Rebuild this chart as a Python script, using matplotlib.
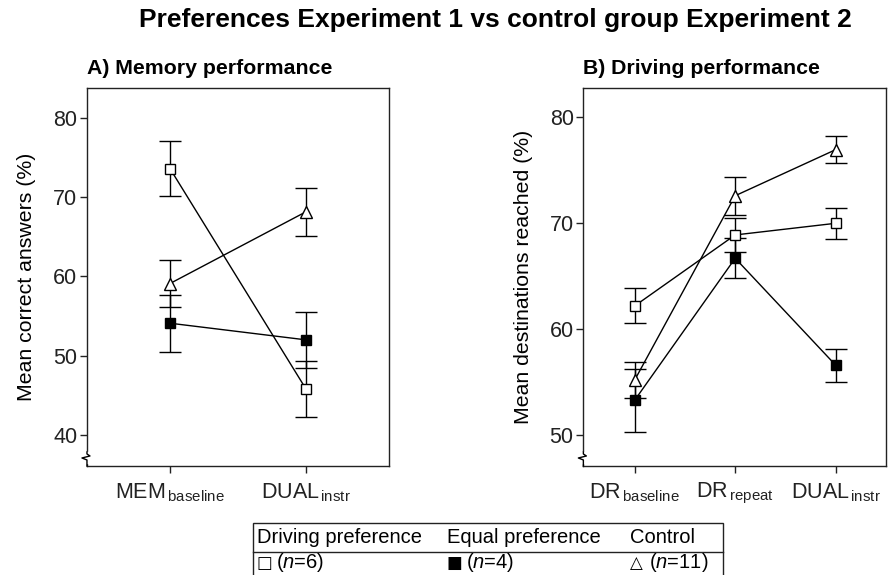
import matplotlib
matplotlib.use('Agg')
import matplotlib.pyplot as plt
from matplotlib.patches import Rectangle
from matplotlib.lines import Line2D

plt.rcParams['font.family'] = ['Liberation Sans', 'DejaVu Sans']
plt.rcParams['mathtext.fontset'] = 'custom'
plt.rcParams['mathtext.rm'] = 'Liberation Sans'
plt.rcParams['mathtext.it'] = 'Liberation Sans:italic'
plt.rcParams['mathtext.default'] = 'regular'

# A) Memory performance
cats_A = ['MEM$_{\\,baseline}$', 'DUAL$_{\\,instr}$']
drive_A = [73.6, 45.8]
drive_A_err = [3.5, 3.5]
equal_A = [54.1, 52.0]
equal_A_err = [3.6, 3.55]
control_A = [59.1, 68.15]
control_A_err = [3.0, 3.05]

# B) Driving performance
cats_B = ['DR$_{\\,baseline}$', 'DR$_{\\,repeat}$', 'DUAL$_{\\,instr}$']
drive_B = [62.2, 68.9, 70.0]
drive_B_err = [1.65, 1.6, 1.45]
equal_B = [53.3, 66.7, 56.6]
equal_B_err = [2.95, 1.9, 1.55]
control_B = [55.2, 72.6, 76.95]
control_B_err = [1.7, 1.8, 1.3]

groups = ['Driving preference', 'Equal preference', 'Control']
group_n = [6, 4, 11]
group_sym = ['\u25a1', '\u25a0', '\u25b3']

fig = plt.figure(figsize=(8.92, 5.75), dpi=100)
axA = fig.add_axes([0.0975, 0.1896, 0.3386, 0.658])
axB = fig.add_axes([0.654, 0.1896, 0.3393, 0.658])


def serie(ax, y, err, marker, face, ms):
    x = list(range(len(y)))
    ax.errorbar(x, y, yerr=err, fmt='none', ecolor='black', elinewidth=1.0,
                capsize=8, capthick=1.0, zorder=2)
    ax.plot(x, y, color='black', lw=1.0, marker=marker, ms=ms,
            mfc=face, mec='black', mew=1.0, zorder=3)


def zigzag(ax):
    # small axis-break mark near the bottom of the y axis
    bb = ax.get_window_extent()
    w, h = bb.width, bb.height
    pts = [(0, 14), (0, 12), (3, 10), (-5, 8), (0, 6), (0, 0)]
    ax.plot([0, 0], [4 / h, 13 / h], color='white', lw=2.5,
            transform=ax.transAxes, clip_on=False, zorder=5)
    ax.plot([p[0] / w for p in pts], [p[1] / h for p in pts], color='black',
            lw=1.0, transform=ax.transAxes, clip_on=False, zorder=6)


def estilo(ax, cats, ylim, xlim, ticks, ylabel, titulo, pad):
    ax.set_xlim(*xlim)
    ax.set_ylim(*ylim)
    ax.set_xticks(range(len(cats)))
    ax.set_xticklabels(cats, fontsize=15.5)
    ax.set_yticks(ticks)
    ax.tick_params(axis='both', labelsize=15.5, length=5, width=1.0,
                   direction='out', colors='#222222')
    ax.tick_params(axis='x', pad=6)
    ax.tick_params(axis='y', pad=2)
    for s in ax.spines.values():
        s.set_linewidth(1.0)
        s.set_color('#222222')
    ax.set_ylabel(ylabel, fontsize=15.3, labelpad=pad)
    ax.set_title(titulo, loc='left', fontsize=15.3, fontweight='bold', pad=10)
    zigzag(ax)


serie(axA, drive_A, drive_A_err, 's', 'white', 7)
serie(axA, equal_A, equal_A_err, 's', 'black', 7.5)
serie(axA, control_A, control_A_err, '^', 'white', 8.5)
estilo(axA, cats_A, (36.1, 83.8), (-0.61, 1.61), [40, 50, 60, 70, 80],
       'Mean correct answers (%)', 'A) Memory performance', 12)

serie(axB, drive_B, drive_B_err, 's', 'white', 7)
serie(axB, equal_B, equal_B_err, 's', 'black', 7.5)
serie(axB, control_B, control_B_err, '^', 'white', 8.5)
estilo(axB, cats_B, (47.1, 82.8), (-0.51, 2.50), [50, 60, 70, 80],
       'Mean destinations reached (%)', 'B) Driving performance', 12)

fig.text(495 / 892, 0.965, 'Preferences Experiment 1 vs control group Experiment 2',
         fontsize=19, fontweight='bold', ha='center', va='center')

# legend table at the bottom
fig.patches.append(Rectangle((0.2836, -0.05), 0.8105 - 0.2836, 0.0904 + 0.05,
                             transform=fig.transFigure, fill=False,
                             lw=1.0, ec='#222222'))
fig.lines.append(Line2D([0.2836, 0.8105], [0.0405, 0.0405],
                        transform=fig.transFigure, lw=1.0, color='#222222'))
col_x = [257 / 892, 447 / 892, 630 / 892]
for i in range(3):
    fig.text(col_x[i], 0.066, groups[i], fontsize=14.5, va='center', ha='left')
    fig.text(col_x[i], 0.0215, group_sym[i], fontsize=12,
             family=['DejaVu Sans'], va='center', ha='left')
    fig.text(col_x[i] + 19 / 892, 0.0215, '($\\mathit{n}$=%d)' % group_n[i],
             fontsize=14.5, va='center', ha='left')

fig.savefig('out.png', dpi=100)
